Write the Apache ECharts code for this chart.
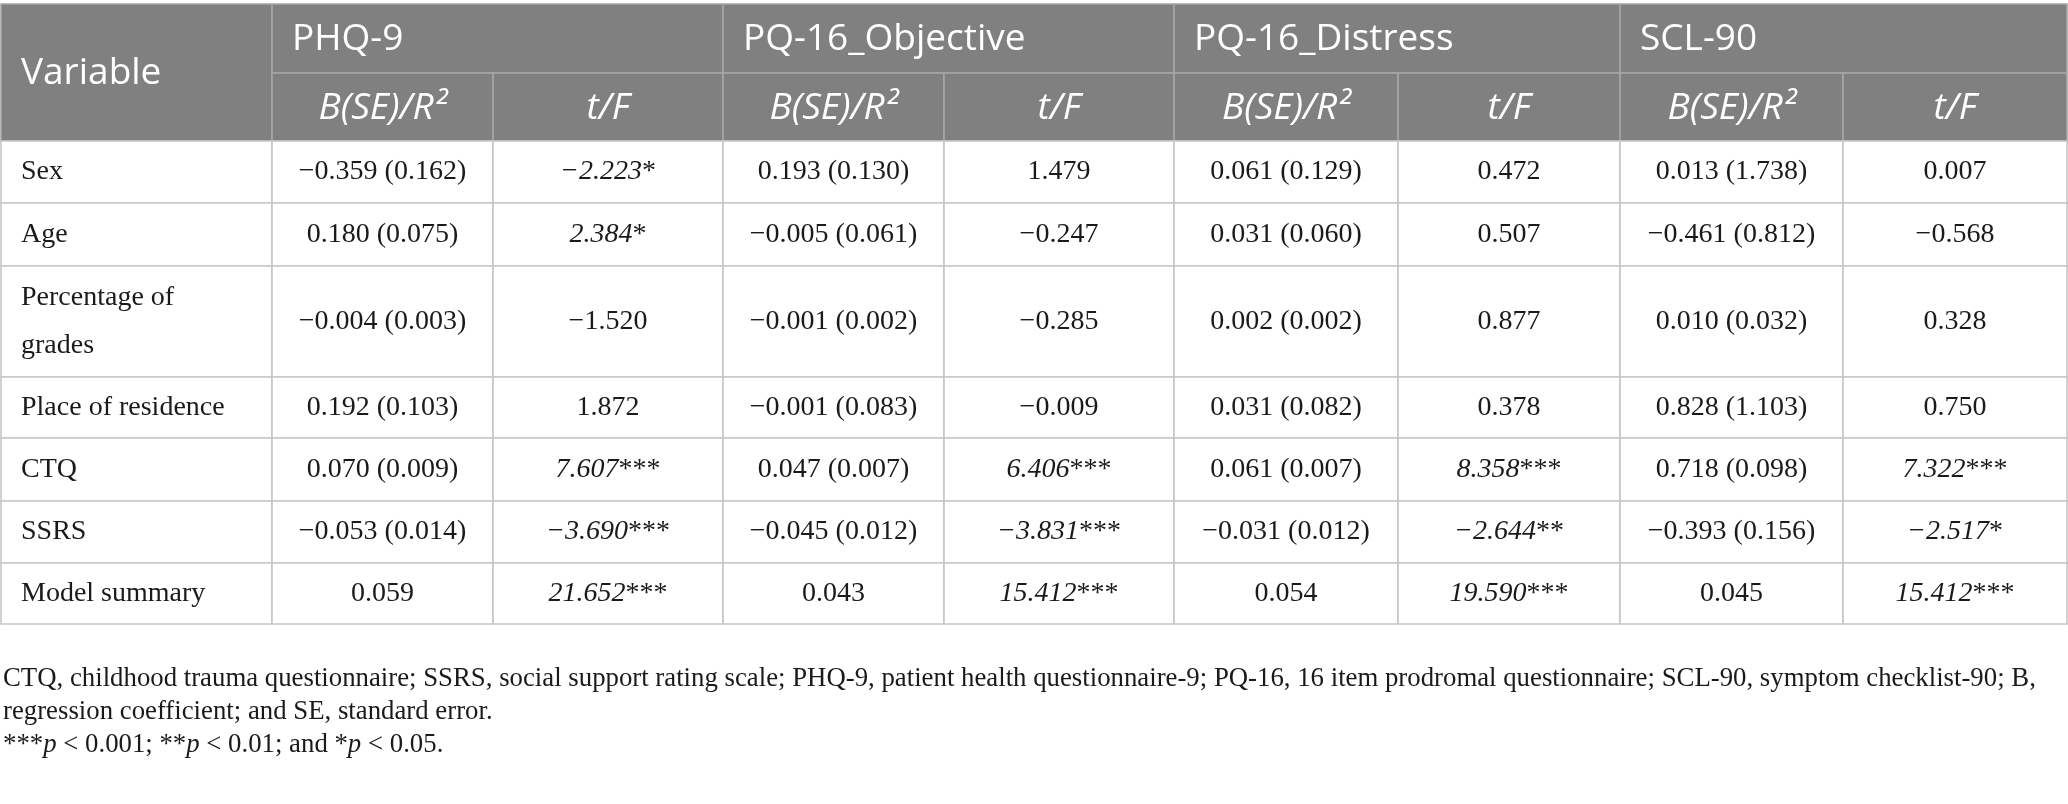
<!DOCTYPE html>
<html><head><meta charset="utf-8">
<script src="https://cdn.jsdelivr.net/npm/echarts@6/dist/echarts.min.js"></script>
<style>html,body{margin:0;padding:0;background:#fff}#c{width:2068px;height:804px}</style>
</head><body><div id="c"></div>
<script>
// ---------- data ----------
const variables = ['Sex', 'Age', 'Percentage of\ngrades', 'Place of residence', 'CTQ', 'SSRS', 'Model summary'];
const outcomes = ['PHQ-9', 'PQ-16_Objective', 'PQ-16_Distress', 'SCL-90'];
const subHeaders = ['B(SE)/R²', 't/F'];
const firstHeader = 'Variable';

const phq9B   = ['−0.359 (0.162)', '0.180 (0.075)', '−0.004 (0.003)', '0.192 (0.103)', '0.070 (0.009)', '−0.053 (0.014)', '0.059'];
const phq9T   = ['−2.223*', '2.384*', '−1.520', '1.872', '7.607***', '−3.690***', '21.652***'];
const pqObjB  = ['0.193 (0.130)', '−0.005 (0.061)', '−0.001 (0.002)', '−0.001 (0.083)', '0.047 (0.007)', '−0.045 (0.012)', '0.043'];
const pqObjT  = ['1.479', '−0.247', '−0.285', '−0.009', '6.406***', '−3.831***', '15.412***'];
const pqDisB  = ['0.061 (0.129)', '0.031 (0.060)', '0.002 (0.002)', '0.031 (0.082)', '0.061 (0.007)', '−0.031 (0.012)', '0.054'];
const pqDisT  = ['0.472', '0.507', '0.877', '0.378', '8.358***', '−2.644**', '19.590***'];
const scl90B  = ['0.013 (1.738)', '−0.461 (0.812)', '0.010 (0.032)', '0.828 (1.103)', '0.718 (0.098)', '−0.393 (0.156)', '0.045'];
const scl90T  = ['0.007', '−0.568', '0.328', '0.750', '7.322***', '−2.517*', '15.412***'];

const footnoteLine1 = 'CTQ, childhood trauma questionnaire; SSRS, social support rating scale; PHQ-9, patient health questionnaire-9; PQ-16, 16 item prodromal questionnaire; SCL-90, symptom checklist-90; B,';
const footnoteLine2 = 'regression coefficient; and SE, standard error.';
const footnoteLine3 = [['***', 'n'], ['p', 'i'], [' < 0.001; **', 'n'], ['p', 'i'], [' < 0.01; and *', 'n'], ['p', 'i'], [' < 0.05.', 'n']];

// ---------- layout ----------
const W = 2068, H = 804;
const colEdges = [1, 272, 493, 723, 944, 1174, 1398, 1620, 1843, 2067];
const rowEdges = [4, 73, 141, 203, 266, 377, 438, 501, 563, 624];
const noteCenters = [680, 713, 746];
const headFill = '#808080', headLine = '#a6a6a6', bodyLine = '#c6c6c6';
const sansFont = '"Open Sans", "Noto Sans", sans-serif';
const serifFont = '"Liberation Serif", "DejaVu Serif", serif';

const bCols = [phq9B, pqObjB, pqDisB, scl90B];
const tCols = [phq9T, pqObjT, pqDisT, scl90T];

// cell table built from the arrays (indices into edge arrays)
const cells = [];
cells.push({ c0: 0, c1: 1, r0: 0, r1: 2, kind: 'head', align: 'left', text: firstHeader });
outcomes.forEach((o, i) => {
  cells.push({ c0: 1 + 2 * i, c1: 3 + 2 * i, r0: 0, r1: 1, kind: 'head', align: 'left', text: o });
  subHeaders.forEach((s, j) => {
    cells.push({ c0: 1 + 2 * i + j, c1: 2 + 2 * i + j, r0: 1, r1: 2, kind: 'sub', align: 'center', text: s });
  });
});
variables.forEach((v, r) => {
  cells.push({ c0: 0, c1: 1, r0: 2 + r, r1: 3 + r, kind: 'body', align: 'left', text: v });
  outcomes.forEach((o, i) => {
    cells.push({ c0: 1 + 2 * i, c1: 2 + 2 * i, r0: 2 + r, r1: 3 + r, kind: 'body', align: 'center', text: bCols[i][r] });
    cells.push({ c0: 2 + 2 * i, c1: 3 + 2 * i, r0: 2 + r, r1: 3 + r, kind: 'tval', align: 'center', text: tCols[i][r] });
  });
});

function tRich(s) {
  const m = s.match(/^(.*?)(\**)$/);
  if (m[2].length) return '{it|' + m[1] + '}{st|' + m[2] + '}';
  return '{up|' + s + '}';
}

function renderItem(params, api) {
  const cell = cells[params.dataIndex];
  const p0 = api.coord([colEdges[cell.c0], rowEdges[cell.r0]]);
  const p1 = api.coord([colEdges[cell.c1], rowEdges[cell.r1]]);
  const x = p0[0], y = p0[1], w = p1[0] - p0[0], h = p1[1] - p0[1];
  const isHead = cell.kind === 'head' || cell.kind === 'sub';
  const rect = {
    type: 'rect', shape: { x: x, y: y, width: w, height: h },
    style: { fill: isHead ? headFill : '#ffffff', stroke: isHead ? headLine : bodyLine, lineWidth: 1.6 }
  };
  const tx = cell.align === 'left' ? x + 20 : x + w / 2;
  const ty = y + h / 2;
  let textStyle;
  if (isHead) {
    textStyle = {
      text: cell.text, x: tx, y: ty + 1, align: cell.align, verticalAlign: 'middle',
      fill: '#ffffff', fontFamily: sansFont, fontSize: 37,
      fontStyle: cell.kind === 'sub' ? 'italic' : 'normal'
    };
  } else if (cell.kind === 'tval') {
    textStyle = {
      text: tRich(cell.text), x: tx, y: ty, align: 'center', verticalAlign: 'middle',
      fill: '#1a1a1a', fontFamily: serifFont, fontSize: 28,
      rich: {
        it: { fontFamily: serifFont, fontSize: 28, fontStyle: 'italic', fill: '#1a1a1a' },
        st: { fontFamily: serifFont, fontSize: 28, fill: '#1a1a1a' },
        up: { fontFamily: serifFont, fontSize: 28, fill: '#1a1a1a' }
      }
    };
  } else {
    textStyle = {
      text: cell.text, x: tx, y: ty, align: cell.align, verticalAlign: 'middle',
      fill: '#1a1a1a', fontFamily: serifFont, fontSize: 28, lineHeight: 48
    };
  }
  return { type: 'group', children: [rect, { type: 'text', style: textStyle }] };
}

// fit footnote font so line 1 spans the same width as in the reference
const ctx = document.createElement('canvas').getContext('2d');
ctx.font = '28px "Liberation Serif"';
const measured = ctx.measureText(footnoteLine1).width;
const noteSize = Math.max(20, Math.min(30, 28 * 2034 / measured));

const richLine3 = footnoteLine3.map(p => '{' + p[1] + '|' + p[0] + '}').join('');

const chart = echarts.init(document.getElementById('c'), null, { renderer: 'canvas' });
chart.setOption({
  animation: false,
  backgroundColor: '#ffffff',
  grid: { left: 0, right: 0, top: 0, bottom: 0 },
  xAxis: { type: 'value', min: 0, max: W, show: false },
  yAxis: { type: 'value', min: 0, max: H, inverse: true, show: false },
  series: [{
    type: 'custom',
    renderItem: renderItem,
    data: cells.map((c, i) => [i]),
    encode: { x: -1, y: -1 },
    clip: false,
    silent: true
  }],
  graphic: [
    { type: 'text', left: 3, top: noteCenters[0] - noteSize * 0.55,
      style: { text: footnoteLine1, fontFamily: serifFont, fontSize: noteSize, fill: '#1a1a1a' } },
    { type: 'text', left: 3, top: noteCenters[1] - noteSize * 0.55,
      style: { text: footnoteLine2, fontFamily: serifFont, fontSize: noteSize, fill: '#1a1a1a' } },
    { type: 'text', left: 3, top: noteCenters[2] - noteSize * 0.55,
      style: { text: richLine3, fontFamily: serifFont, fontSize: noteSize, fill: '#1a1a1a',
        rich: {
          n: { fontFamily: serifFont, fontSize: noteSize, fill: '#1a1a1a' },
          i: { fontFamily: serifFont, fontSize: noteSize, fontStyle: 'italic', fill: '#1a1a1a' }
        } } }
  ]
});
</script>
</body></html>
